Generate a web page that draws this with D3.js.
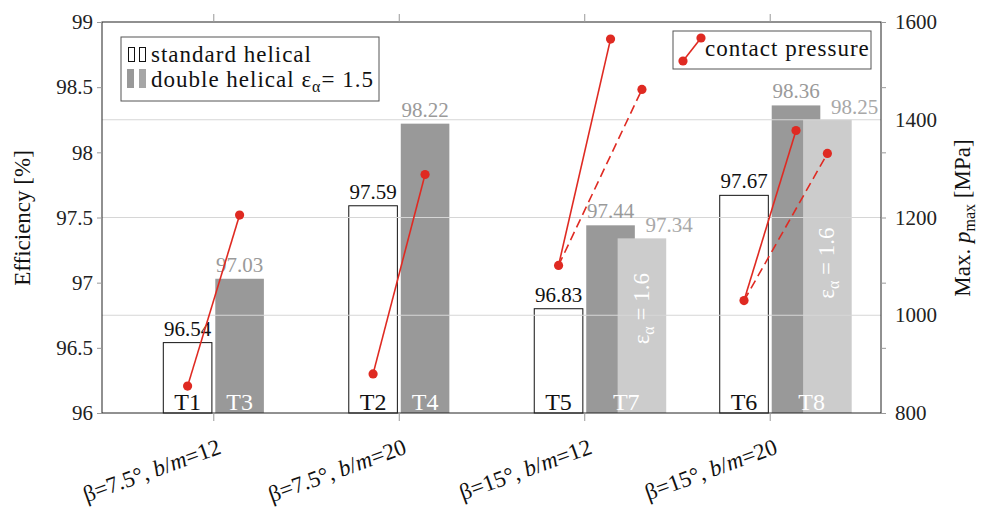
<!DOCTYPE html>
<html>
<head>
<meta charset="utf-8">
<script src="https://cdn.jsdelivr.net/npm/d3@7"></script>
<style>
  body { margin: 0; background: #fff; }
  svg text { font-family: "Liberation Serif", "Times New Roman", serif; }
</style>
</head>
<body>
<div id="chart"></div>
<script>
// data
const betaLabels = ["7.5", "7.5", "15", "15"];
const bmLabels = ["12", "20", "12", "20"];
const standardNames = ["T1", "T2", "T5", "T6"];
const doubleNames = ["T3", "T4", "T7", "T8"];
const standardEff = [96.54, 97.59, 96.80, 97.67];
const standardText = ["96.54", "97.59", "96.83", "97.67"];
const doubleEff = [97.03, 98.22, 97.44, 98.36];
const double16Eff = [null, null, 97.34, 98.25];
const pressureStandard = [855, 880, 1102, 1030];
const pressureDouble = [1205, 1288, 1565, 1378];
const pressureDouble16 = [null, null, 1462, 1331];
const epsNotePos = [null, null, 96.80, 97.15];
const effTicks = [96, 96.5, 97, 97.5, 98, 98.5, 99];
const pressureTicks = [800, 1000, 1200, 1400, 1600];
const gridTicks = [1000, 1200, 1400];

const W = 992, H = 508;
const plot = { left: 102, right: 881, top: 22, bottom: 413 };
const red = "#df2a22";
const dark = "#999999";
const light = "#cccccc";
const serif = '"Liberation Serif", "Times New Roman", serif';

const svg = d3.select("#chart").append("svg")
    .attr("width", W)
    .attr("height", H);

const x = d3.scalePoint()
    .domain(d3.range(betaLabels.length))
    .range([plot.left, plot.right])
    .padding(0.6);
const step = x.step();
const barW = 0.262 * step;
const offWhite = -0.2695 * step;
const offDark = 0.0108 * step;
const offLight = 0.18 * step;

const y = d3.scaleLinear().domain([96, 99]).range([plot.bottom, plot.top]);
const yP = d3.scaleLinear().domain([800, 1600]).range([plot.bottom, plot.top]);

// bars
const idx = d3.range(betaLabels.length);

svg.selectAll(".bar-std")
    .data(idx)
    .join("rect")
    .attr("x", i => x(i) + offWhite)
    .attr("y", i => y(standardEff[i]))
    .attr("width", barW)
    .attr("height", i => y(96) - y(standardEff[i]))
    .attr("fill", "#fff")
    .attr("stroke", "#111")
    .attr("stroke-width", 1);

svg.selectAll(".bar-dbl")
    .data(idx)
    .join("rect")
    .attr("x", i => x(i) + offDark)
    .attr("y", i => y(doubleEff[i]))
    .attr("width", barW)
    .attr("height", i => y(96) - y(doubleEff[i]))
    .attr("fill", dark);

const idx16 = idx.filter(i => double16Eff[i] != null);

svg.selectAll(".bar-dbl16")
    .data(idx16)
    .join("rect")
    .attr("x", i => x(i) + offLight)
    .attr("y", i => y(double16Eff[i]))
    .attr("width", barW)
    .attr("height", i => y(96) - y(double16Eff[i]))
    .attr("fill", light);

// grid from the pressure axis
svg.selectAll(".grid")
    .data(gridTicks)
    .join("line")
    .attr("x1", plot.left)
    .attr("x2", plot.right)
    .attr("y1", d => yP(d))
    .attr("y2", d => yP(d))
    .attr("stroke", "#d6d6d6")
    .attr("stroke-width", 1);

// frame
svg.append("rect")
    .attr("x", plot.left)
    .attr("y", plot.top)
    .attr("width", plot.right - plot.left)
    .attr("height", plot.bottom - plot.top)
    .attr("fill", "none")
    .attr("stroke", "#222")
    .attr("stroke-width", 1);

// axes
const styleAxis = g => {
    g.attr("font-family", null);
    g.select(".domain").remove();
    g.selectAll(".tick line").attr("stroke", "#999");
    g.selectAll(".tick text")
        .style("font-family", serif)
        .style("font-size", "21px")
        .attr("fill", "#222");
};

svg.append("g")
    .attr("transform", `translate(${plot.left},0)`)
    .call(d3.axisLeft(y).tickValues(effTicks).tickSize(5).tickPadding(4).tickFormat(d => d))
    .call(styleAxis);

svg.append("g")
    .attr("transform", `translate(${plot.right},0)`)
    .call(d3.axisRight(y).tickValues(effTicks).tickSize(5).tickFormat(""))
    .call(styleAxis);

svg.append("g")
    .attr("transform", `translate(${plot.right},0)`)
    .call(d3.axisRight(yP).tickValues(pressureTicks).tickSize(0).tickPadding(14).tickFormat(d => d))
    .call(styleAxis);

svg.append("g")
    .attr("transform", `translate(0,${plot.top})`)
    .call(d3.axisTop(x).tickSize(8).tickFormat(""))
    .call(styleAxis);

svg.append("g")
    .attr("transform", `translate(0,${plot.bottom})`)
    .call(d3.axisBottom(x).tickSize(8).tickFormat(""))
    .call(styleAxis);

// rotated category labels
idx.forEach(i => {
    const t = svg.append("text")
        .attr("transform", `translate(${x(i) + 9},453) rotate(-20)`)
        .attr("text-anchor", "end")
        .attr("font-size", 23)
        .attr("fill", "#111");
    t.append("tspan").text(`β=${betaLabels[i]}°, `);
    t.append("tspan").attr("font-style", "italic").text("b");
    t.append("tspan").text("/");
    t.append("tspan").attr("font-style", "italic").text("m");
    t.append("tspan").text("=" + bmLabels[i]);
});

// axis titles
svg.append("text")
    .attr("transform", `translate(30,218) rotate(-90)`)
    .attr("text-anchor", "middle")
    .attr("font-size", 23)
    .attr("fill", "#111")
    .text("Efficiency [%]");

const rt = svg.append("text")
    .attr("transform", `translate(970,218) rotate(-90)`)
    .attr("text-anchor", "middle")
    .attr("font-size", 23)
    .attr("fill", "#111");
rt.append("tspan").text("Max. ");
rt.append("tspan").attr("font-style", "italic").text("p");
rt.append("tspan").attr("font-size", 16).attr("dy", 5).text("max");
rt.append("tspan").attr("dy", -5).text(" [MPa]");

// value labels
svg.selectAll(".val-std")
    .data(idx)
    .join("text")
    .attr("x", i => x(i) + offWhite + barW / 2)
    .attr("y", i => y(standardEff[i]) - 7)
    .attr("text-anchor", "middle")
    .attr("font-size", 21)
    .attr("fill", "#111")
    .text(i => standardText[i]);

svg.selectAll(".val-dbl")
    .data(idx)
    .join("text")
    .attr("x", i => x(i) + offDark + barW / 2)
    .attr("y", i => y(doubleEff[i]) - 7)
    .attr("text-anchor", "middle")
    .attr("font-size", 21)
    .attr("fill", "#9a9a9a")
    .text(i => doubleEff[i].toFixed(2));

svg.selectAll(".val-dbl16")
    .data(idx16)
    .join("text")
    .attr("x", i => x(i) + offLight + barW + 3)
    .attr("y", i => y(double16Eff[i]) - 6)
    .attr("text-anchor", "middle")
    .attr("font-size", 21)
    .attr("fill", "#a8a8a8")
    .text(i => double16Eff[i].toFixed(2));

// test names at the bar feet
svg.selectAll(".name-std")
    .data(idx)
    .join("text")
    .attr("x", i => x(i) + offWhite + barW / 2)
    .attr("y", plot.bottom - 3)
    .attr("text-anchor", "middle")
    .attr("font-size", 24)
    .attr("fill", "#111")
    .text(i => standardNames[i]);

svg.selectAll(".name-dbl")
    .data(idx)
    .join("text")
    .attr("x", i => double16Eff[i] != null
        ? x(i) + (offDark + offLight + barW) / 2
        : x(i) + offDark + barW / 2)
    .attr("y", plot.bottom - 3)
    .attr("text-anchor", "middle")
    .attr("font-size", 24)
    .attr("fill", "#fff")
    .text(i => doubleNames[i]);

// epsilon note inside the light bars
idx16.forEach(i => {
    const t = svg.append("text")
        .attr("transform", `translate(${x(i) + offLight + barW / 2 + 7},${y(epsNotePos[i])}) rotate(-90)`)
        .attr("text-anchor", "middle")
        .attr("font-size", 23)
        .attr("fill", "#fff");
    t.append("tspan").text("ε");
    t.append("tspan").attr("font-size", 16).attr("dy", 5).text("α");
    t.append("tspan").attr("dy", -5).text(" = 1.6");
});

// contact pressure lines
const ptStd = i => [x(i) + offWhite + barW / 2, yP(pressureStandard[i])];
const ptDbl = i => [x(i) + offDark + barW / 2, yP(pressureDouble[i])];
const ptDbl16 = i => [x(i) + offLight + barW / 2, yP(pressureDouble16[i])];

idx.forEach(i => {
    const a = ptStd(i), b = ptDbl(i);
    svg.append("line")
        .attr("x1", a[0]).attr("y1", a[1])
        .attr("x2", b[0]).attr("y2", b[1])
        .attr("stroke", red)
        .attr("stroke-width", 1.6);
    if (pressureDouble16[i] != null) {
        const c = ptDbl16(i);
        svg.append("line")
            .attr("x1", a[0]).attr("y1", a[1])
            .attr("x2", c[0]).attr("y2", c[1])
            .attr("stroke", red)
            .attr("stroke-width", 1.6)
            .attr("stroke-dasharray", "9,5");
    }
});

const dots = [];
idx.forEach(i => {
    dots.push(ptStd(i), ptDbl(i));
    if (pressureDouble16[i] != null) dots.push(ptDbl16(i));
});
svg.selectAll(".dot")
    .data(dots)
    .join("circle")
    .attr("cx", d => d[0])
    .attr("cy", d => d[1])
    .attr("r", 4.6)
    .attr("fill", red);

// legend: bars
const lg = svg.append("g");
lg.append("rect")
    .attr("x", 121).attr("y", 37)
    .attr("width", 258).attr("height", 64)
    .attr("fill", "#fff")
    .attr("stroke", "#555")
    .attr("stroke-width", 1);
[128, 139].forEach(px => {
    lg.append("rect")
        .attr("x", px + 0.5).attr("y", 47.5)
        .attr("width", 6).attr("height", 14)
        .attr("fill", "#fff")
        .attr("stroke", "#111");
});
lg.append("rect").attr("x", 127).attr("y", 69).attr("width", 7).attr("height", 19).attr("fill", dark);
lg.append("rect").attr("x", 139).attr("y", 69).attr("width", 7).attr("height", 19).attr("fill", "#a6a6a6");
lg.append("text")
    .attr("x", 151).attr("y", 62)
    .attr("font-size", 23)
    .attr("letter-spacing", 1)
    .attr("fill", "#111")
    .text("standard helical");
const l2 = lg.append("text")
    .attr("x", 151).attr("y", 87)
    .attr("font-size", 23)
    .attr("letter-spacing", 1)
    .attr("fill", "#111");
l2.append("tspan").text("double helical ε");
l2.append("tspan").attr("font-size", 16).attr("dy", 5).text("α");
l2.append("tspan").attr("dy", -5).text("= 1.5");

// legend: pressure
const lp = svg.append("g");
lp.append("rect")
    .attr("x", 673).attr("y", 31)
    .attr("width", 198).attr("height", 38)
    .attr("fill", "#fff")
    .attr("stroke", "#555")
    .attr("stroke-width", 1);
lp.append("line")
    .attr("x1", 683).attr("y1", 61)
    .attr("x2", 701).attr("y2", 38)
    .attr("stroke", red)
    .attr("stroke-width", 1.6);
lp.selectAll("circle")
    .data([[683, 61], [701, 38]])
    .join("circle")
    .attr("cx", d => d[0]).attr("cy", d => d[1])
    .attr("r", 4.6)
    .attr("fill", red);
lp.append("text")
    .attr("x", 705).attr("y", 56)
    .attr("font-size", 23)
    .attr("letter-spacing", 1)
    .attr("fill", "#111")
    .text("contact pressure");
</script>
</body>
</html>
